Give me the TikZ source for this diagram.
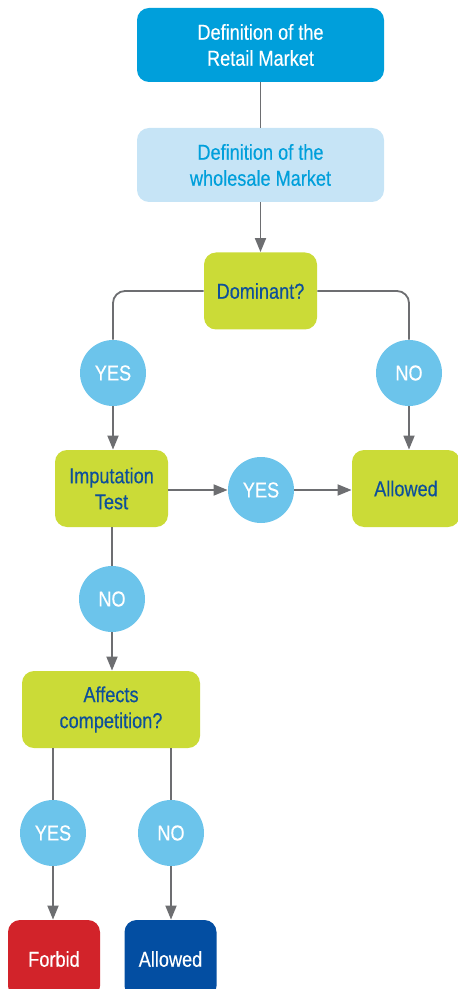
\documentclass[tikz,border=0pt]{standalone}
\usepackage{fontspec}
\setmainfont{Liberation Sans}[FakeStretch=0.84,FakeBold=0.35]
\usetikzlibrary{arrows.meta}

\definecolor{retailblue}{RGB}{0,159,219}
\definecolor{paleblue}{RGB}{198,228,246}
\definecolor{limegreen}{RGB}{203,219,55}
\definecolor{deepblue}{RGB}{13,79,154}
\definecolor{skyblue}{RGB}{108,196,235}
\definecolor{stopred}{RGB}{210,35,42}
\definecolor{navyblue}{RGB}{3,78,162}
\definecolor{linegray}{RGB}{109,110,113}

\begin{document}
\begin{tikzpicture}[x=0.5pt,y=-0.5pt,
	box/.style={rectangle,rounded corners=6pt,align=center,font=\fontsize{10.8}{13}\selectfont,inner sep=0pt},
	market/.style={box,minimum width=123.5pt,minimum height=37pt},
	question/.style={box,fill=limegreen,text=deepblue,minimum height=38.5pt},
	answer/.style={circle,fill=skyblue,text=white,minimum size=33pt,inner sep=0pt,font=\fontsize{10.8}{13}\selectfont},
	verdict/.style={box,text=white,minimum width=46pt,minimum height=39pt},
	link/.style={draw=linegray,line width=0.9pt},
	flow/.style={link,-{Triangle[length=7pt,width=5.5pt]}}]
	\useasboundingbox (0,0) rectangle (458,989);

	% markets
	\node[market,fill=retailblue,text=white] (ret) at (260.5,45) {Definition of the\\Retail Market};
	\node[market,fill=paleblue,text=retailblue] (whs) at (260.5,165) {Definition of the\\wholesale Market};

	% questions
	\node[question,minimum width=56.5pt] (dom) at (260.5,291) {Dominant?};
	\node[question,minimum width=56.5pt] (imp) at (111.5,488.5) {Imputation\\Test};
	\node[question,minimum width=89pt] (aff) at (111,709.5) {Affects\\competition?};
	\node[question,minimum width=54pt] (alwa) at (406,488.5) {Allowed};

	% answers
	\node[answer] (yesa) at (113,373) {YES};
	\node[answer] (noa) at (409,373) {NO};
	\node[answer] (yesb) at (261,490) {YES};
	\node[answer] (nob) at (112,599) {NO};
	\node[answer] (yesc) at (53,833) {YES};
	\node[answer] (noc) at (171,833) {NO};

	% verdicts
	\node[verdict,fill=stopred] (fbd) at (54,959) {Forbid};
	\node[verdict,fill=navyblue] (alwb) at (170.5,959) {Allowed};

	% connectors
	\draw[link] (ret) -- (whs);
	\draw[flow] (whs) -- (dom);
	\draw[link,rounded corners=6pt] (dom.west) -| (yesa.north);
	\draw[link,rounded corners=6pt] (dom.east) -| (noa.north);
	\draw[flow] (yesa.south) -- (yesa.south |- imp.north);
	\draw[flow] (noa.south) -- (noa.south |- alwa.north);
	\draw[flow] (imp.east |- yesb.west) -- (yesb.west);
	\draw[flow] (yesb.east) -- (yesb.east -| alwa.west);
	\draw[link] (imp.south -| nob.north) -- (nob.north);
	\draw[flow] (nob.south) -- (nob.south |- aff.north);
	\draw[link] (aff.south -| yesc.north) -- (yesc.north);
	\draw[link] (aff.south -| noc.north) -- (noc.north);
	\draw[flow] (yesc.south) -- (yesc.south |- fbd.north);
	\draw[flow] (noc.south) -- (noc.south |- alwb.north);
\end{tikzpicture}
\end{document}
